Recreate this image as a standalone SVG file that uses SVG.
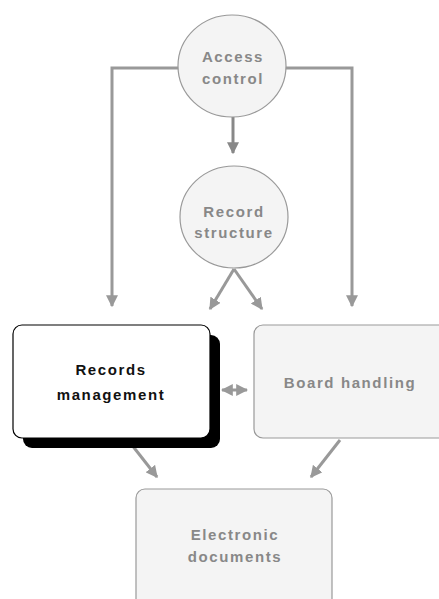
<svg xmlns="http://www.w3.org/2000/svg" width="439" height="599" viewBox="0 0 439 599">
<defs>
<marker id="ah" viewBox="0 0 10 10" refX="9" refY="5" markerWidth="4" markerHeight="4" orient="auto-start-reverse" markerUnits="strokeWidth">
<path d="M0,0 L10,5 L0,10 z" fill="#999"/>
</marker>
<marker id="ahd" viewBox="0 0 10 10" refX="9" refY="5" markerWidth="4" markerHeight="4" orient="auto" markerUnits="strokeWidth">
<path d="M0,0 L10,5 L0,10 z" fill="#888"/>
</marker>
</defs>
<style>
.c{fill:none;stroke:#999;stroke-width:3}
.n{fill:#f4f4f4;stroke:#999;stroke-width:1.2}
.t{font-family:"Liberation Sans",Arial,sans-serif;font-weight:bold;font-size:15px;letter-spacing:1.6px;fill:#888;text-anchor:middle}
</style>
<rect width="439" height="599" fill="#fff"/>
<g id="connectors">
<path class="c" d="M179,68 H112 V306" marker-end="url(#ah)"/>
<path class="c" d="M285,68 H352 V306" marker-end="url(#ah)"/>
<path class="c" d="M233,117 V153" style="stroke:#888" marker-end="url(#ahd)"/>
<path class="c" d="M234,269 L210,309" marker-end="url(#ah)"/>
<path class="c" d="M234,269 L262,309" marker-end="url(#ah)"/>
<path class="c" d="M222,390 H247" marker-start="url(#ah)" marker-end="url(#ah)"/>
<path class="c" d="M128,440 L157,477" marker-end="url(#ah)"/>
<path class="c" d="M340,440 L311,477" marker-end="url(#ah)"/>
</g>
<g id="access-control">
<ellipse class="n" cx="232" cy="66" rx="54" ry="51"/>
<text class="t" x="233" y="62">Access</text>
<text class="t" x="233" y="84">control</text>
</g>
<g id="record-structure">
<ellipse class="n" cx="234" cy="217" rx="54" ry="51"/>
<text class="t" x="234" y="217">Record</text>
<text class="t" x="234" y="238">structure</text>
</g>
<g id="records-management">
<rect x="23" y="335" width="197" height="113" rx="9" fill="#000"/>
<rect x="13" y="325" width="197" height="113" rx="9" fill="#fff" stroke="#000" stroke-width="1.2"/>
<text class="t" x="111" y="375" style="fill:#111">Records</text>
<text class="t" x="111" y="400" style="fill:#111">management</text>
</g>
<g id="board-handling">
<rect class="n" x="254" y="325" width="200" height="113" rx="9"/>
<text class="t" x="350" y="388">Board handling</text>
</g>
<g id="electronic-documents">
<rect class="n" x="136" y="489" width="196" height="130" rx="9"/>
<text class="t" x="235" y="540">Electronic</text>
<text class="t" x="235" y="562">documents</text>
</g>
</svg>
